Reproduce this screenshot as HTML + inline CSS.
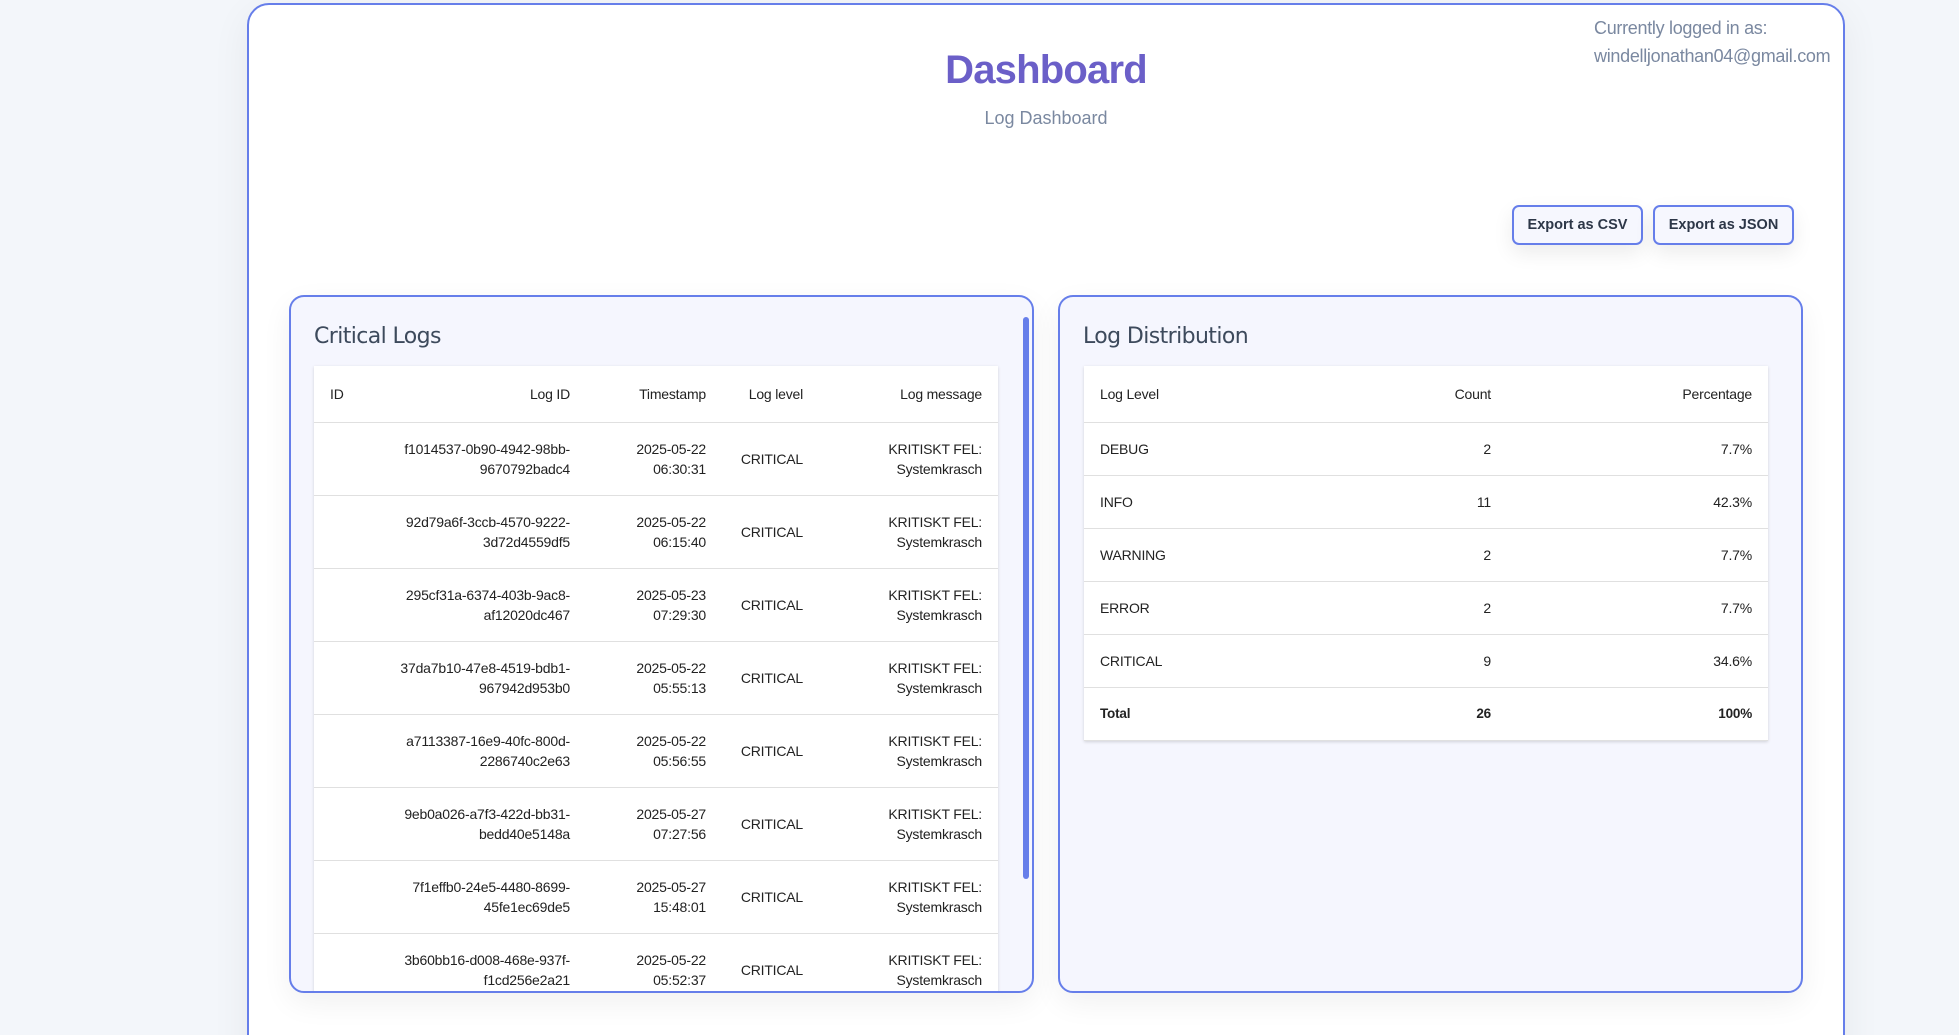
<!DOCTYPE html>
<html><head><meta charset="utf-8"><style>
*{box-sizing:border-box;margin:0;padding:0}
html,body{width:1959px;height:1035px;overflow:hidden}
body{background:#f3f6fa;font-family:"Liberation Sans",Arial,sans-serif}
#wrap{position:relative;width:1959px;height:1035px;overflow:hidden}
.main{position:absolute;left:247px;top:3px;width:1598px;height:1080px;background:#fff;border:2px solid #667eea;border-radius:22px;box-shadow:0 10px 40px rgba(0,0,0,.06)}
h1{position:absolute;left:247px;width:1598px;top:48px;text-align:center;font-family:"Liberation Sans",sans-serif;font-size:40px;font-weight:bold;color:#6b5fc8;letter-spacing:-0.8px}
.sub{position:absolute;left:247px;width:1598px;top:108px;text-align:center;font-size:18px;color:#7a88a0}
.user{position:absolute;left:1594px;top:14px;font-size:18px;line-height:28px;color:#7a88a0;letter-spacing:-0.3px}
.btn{position:absolute;top:205px;height:40px;border:2px solid #667eea;border-radius:7px;background:#f6f7fe;font-weight:bold;font-size:14.5px;color:#2d3748;text-align:center;line-height:36px;box-shadow:0 8px 20px rgba(0,0,0,.08)}
.panel{position:absolute;top:295px;width:745px;height:698px;border:2px solid #667eea;border-radius:15px;background:#f5f6fe;overflow:hidden;box-shadow:0 10px 30px rgba(0,0,0,.06)}
.pt{position:absolute;left:23px;top:27px;font-size:22px;color:#3d4a5c;font-family:"DejaVu Sans","Liberation Sans",sans-serif;letter-spacing:-0.6px}
table{position:absolute;top:69px;border-collapse:collapse;background:#fff;font-size:14px;color:#222;table-layout:fixed;box-shadow:0 1px 3px rgba(0,0,0,.15);letter-spacing:-0.2px}
td,th{font-weight:normal;padding:0 16px;border-bottom:1px solid #e0e0e0;white-space:nowrap;line-height:20px}
th{height:56px}
.l td{height:73px}
.r td{height:53px}
.ra{text-align:right}
.la{text-align:left}
.l td.ra{direction:rtl}
.sb{position:absolute;left:732px;top:20px;width:6px;height:562px;background:#667eea;border-radius:3px}
.tr td{font-weight:bold;font-size:13.5px}
</style></head><body><div id="wrap">
<div class="main"></div>
<h1>Dashboard</h1>
<div class="sub">Log Dashboard</div>
<div class="user">Currently logged in as:<br>windelljonathan04@gmail.com</div>
<div class="btn" style="left:1512px;width:131px">Export as CSV</div>
<div class="btn" style="left:1653px;width:141px">Export as JSON</div>

<div class="panel" style="left:289px">
<div class="pt">Critical Logs</div>
<table class="l" style="left:23px;width:684px">
<colgroup><col style="width:86px"><col style="width:186px"><col style="width:136px"><col style="width:97px"><col style="width:179px"></colgroup>
<tr><th class="la">ID</th><th class="ra">Log ID</th><th class="ra">Timestamp</th><th class="ra">Log level</th><th class="ra">Log message</th></tr>
<tr><td></td><td class="ra"><bdi>f1014537-0b90-4942-98bb-</bdi><br><bdi>9670792badc4</bdi></td><td class="ra"><bdi>2025-05-22</bdi><br><bdi>06:30:31</bdi></td><td class="ra">CRITICAL</td><td class="ra"><bdi>KRITISKT FEL:</bdi><br>Systemkrasch</td></tr>
<tr><td></td><td class="ra"><bdi>92d79a6f-3ccb-4570-9222-</bdi><br><bdi>3d72d4559df5</bdi></td><td class="ra"><bdi>2025-05-22</bdi><br><bdi>06:15:40</bdi></td><td class="ra">CRITICAL</td><td class="ra"><bdi>KRITISKT FEL:</bdi><br>Systemkrasch</td></tr>
<tr><td></td><td class="ra"><bdi>295cf31a-6374-403b-9ac8-</bdi><br><bdi>af12020dc467</bdi></td><td class="ra"><bdi>2025-05-23</bdi><br><bdi>07:29:30</bdi></td><td class="ra">CRITICAL</td><td class="ra"><bdi>KRITISKT FEL:</bdi><br>Systemkrasch</td></tr>
<tr><td></td><td class="ra"><bdi>37da7b10-47e8-4519-bdb1-</bdi><br><bdi>967942d953b0</bdi></td><td class="ra"><bdi>2025-05-22</bdi><br><bdi>05:55:13</bdi></td><td class="ra">CRITICAL</td><td class="ra"><bdi>KRITISKT FEL:</bdi><br>Systemkrasch</td></tr>
<tr><td></td><td class="ra"><bdi>a7113387-16e9-40fc-800d-</bdi><br><bdi>2286740c2e63</bdi></td><td class="ra"><bdi>2025-05-22</bdi><br><bdi>05:56:55</bdi></td><td class="ra">CRITICAL</td><td class="ra"><bdi>KRITISKT FEL:</bdi><br>Systemkrasch</td></tr>
<tr><td></td><td class="ra"><bdi>9eb0a026-a7f3-422d-bb31-</bdi><br><bdi>bedd40e5148a</bdi></td><td class="ra"><bdi>2025-05-27</bdi><br><bdi>07:27:56</bdi></td><td class="ra">CRITICAL</td><td class="ra"><bdi>KRITISKT FEL:</bdi><br>Systemkrasch</td></tr>
<tr><td></td><td class="ra"><bdi>7f1effb0-24e5-4480-8699-</bdi><br><bdi>45fe1ec69de5</bdi></td><td class="ra"><bdi>2025-05-27</bdi><br><bdi>15:48:01</bdi></td><td class="ra">CRITICAL</td><td class="ra"><bdi>KRITISKT FEL:</bdi><br>Systemkrasch</td></tr>
<tr><td></td><td class="ra"><bdi>3b60bb16-d008-468e-937f-</bdi><br><bdi>f1cd256e2a21</bdi></td><td class="ra"><bdi>2025-05-22</bdi><br><bdi>05:52:37</bdi></td><td class="ra">CRITICAL</td><td class="ra"><bdi>KRITISKT FEL:</bdi><br>Systemkrasch</td></tr>
</table>
<div class="sb"></div>
</div>

<div class="panel" style="left:1058px">
<div class="pt">Log Distribution</div>
<table class="r" style="left:24px;width:684px">
<colgroup><col style="width:216px"><col style="width:207px"><col style="width:261px"></colgroup>
<tr><th class="la">Log Level</th><th class="ra">Count</th><th class="ra">Percentage</th></tr>
<tr><td>DEBUG</td><td class="ra">2</td><td class="ra">7.7%</td></tr>
<tr><td>INFO</td><td class="ra">11</td><td class="ra">42.3%</td></tr>
<tr><td>WARNING</td><td class="ra">2</td><td class="ra">7.7%</td></tr>
<tr><td>ERROR</td><td class="ra">2</td><td class="ra">7.7%</td></tr>
<tr><td>CRITICAL</td><td class="ra">9</td><td class="ra">34.6%</td></tr>
<tr class="tr"><td>Total</td><td class="ra">26</td><td class="ra">100%</td></tr>
</table>
</div>
</div></body></html>
